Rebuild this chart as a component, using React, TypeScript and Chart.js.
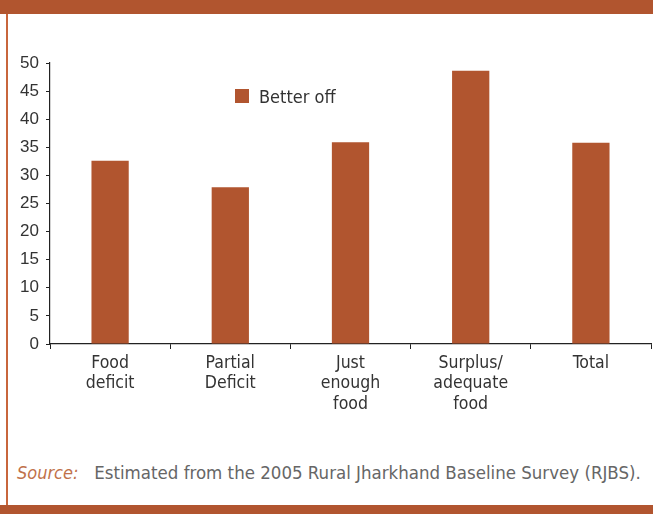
import React, { useEffect, useRef } from "react";
import { Chart, registerables } from "chart.js";

Chart.register(...registerables);

const categories: string[][] = [
  ["Food", "deficit"],
  ["Partial", "Deficit"],
  ["Just", "enough", "food"],
  ["Surplus/", "adequate", "food"],
  ["Total"],
];
const seriesLabel = "Better off";
const betterOff = [32.6, 27.9, 35.9, 48.6, 35.8];
const yTicks = [0, 5, 10, 15, 20, 25, 30, 35, 40, 45, 50];

const BRICK = "#B1552F";
const NARROW = "'Liberation Sans Narrow', 'DejaVu Sans Condensed', 'Roboto', sans-serif";

const legendPlugin = {
  id: "customLegend",
  afterDraw(chart: any) {
    const ctx = chart.ctx;
    const ds = chart.data.datasets[0];
    const x = 235;
    const y = 69;
    ctx.save();
    ctx.fillStyle = ds.backgroundColor;
    ctx.fillRect(x, y, 14, 14);
    ctx.fillStyle = "#333333";
    ctx.font = `18px ${NARROW}`;
    ctx.textBaseline = "middle";
    ctx.fillText(ds.label, x + 24, y + 9);
    ctx.restore();
  },
};

export default function App() {
  const ref = useRef<HTMLCanvasElement>(null);
  useEffect(() => {
    if (!ref.current) return;
    const chart = new Chart(ref.current, {
      type: "bar",
      data: {
        labels: categories,
        datasets: [
          {
            label: seriesLabel,
            data: betterOff,
            backgroundColor: BRICK,
            borderWidth: 0,
            barPercentage: 0.31,
            categoryPercentage: 1,
          },
        ],
      },
      options: {
        animation: false,
        responsive: false,
        maintainAspectRatio: false,
        layout: { padding: { top: 43, right: 2, left: 0, bottom: 0 } },
        plugins: { legend: { display: false }, tooltip: { enabled: false } },
        scales: {
          x: {
            grid: {
              offset: true,
              drawOnChartArea: false,
              drawTicks: true,
              tickLength: 5,
              color: "#222222",
            },
            border: { display: true, color: "#222222", width: 1.2 },
            ticks: {
              color: "#333333",
              font: { family: NARROW, size: 17.5, lineHeight: 1.17 },
              padding: 4,
              maxRotation: 0,
              autoSkip: false,
            },
            afterFit(scale: any) {
              scale.height = 96;
            },
          },
          y: {
            min: 0,
            max: 50,
            afterBuildTicks(scale: any) {
              scale.ticks = yTicks.map((v) => ({ value: v }));
            },
            grid: {
              drawOnChartArea: false,
              drawTicks: true,
              tickLength: 4,
              color: "#222222",
            },
            border: { display: true, color: "#222222", width: 1.2 },
            ticks: {
              color: "#333333",
              font: { family: "'Liberation Sans', Arial, sans-serif", size: 17 },
              padding: 7,
            },
            afterFit(scale: any) {
              scale.width = 50;
            },
          },
        },
      },
      plugins: [legendPlugin],
    });
    return () => chart.destroy();
  }, []);

  return (
    <div
      style={{
        position: "fixed",
        left: 0,
        top: 0,
        width: 653,
        height: 514,
        background: "#ffffff",
        overflow: "hidden",
      }}
    >
      <div style={{ position: "absolute", left: 0, top: 0, width: 653, height: 14, background: BRICK }} />
      <div style={{ position: "absolute", left: 6, top: 14, width: 1.5, height: 491, background: "#C8663C" }} />
      <div style={{ position: "absolute", left: 0, top: 505, width: 653, height: 9, background: BRICK }} />
      <canvas
        ref={ref}
        width={653}
        height={420}
        style={{ position: "absolute", left: 0, top: 20, width: 653, height: 420 }}
      />
      <div
        style={{
          position: "absolute",
          left: 17,
          top: 462,
          fontFamily: NARROW,
          fontSize: 18,
          color: "#666666",
          whiteSpace: "nowrap",
        }}
      >
        <span style={{ color: "#C0714A", fontStyle: "italic" }}>Source:</span>
        <span style={{ fontSize: 18.5 }}>{"\u00a0\u00a0 Estimated from the 2005 Rural Jharkhand Baseline Survey (RJBS)."}</span>
      </div>
    </div>
  );
}
